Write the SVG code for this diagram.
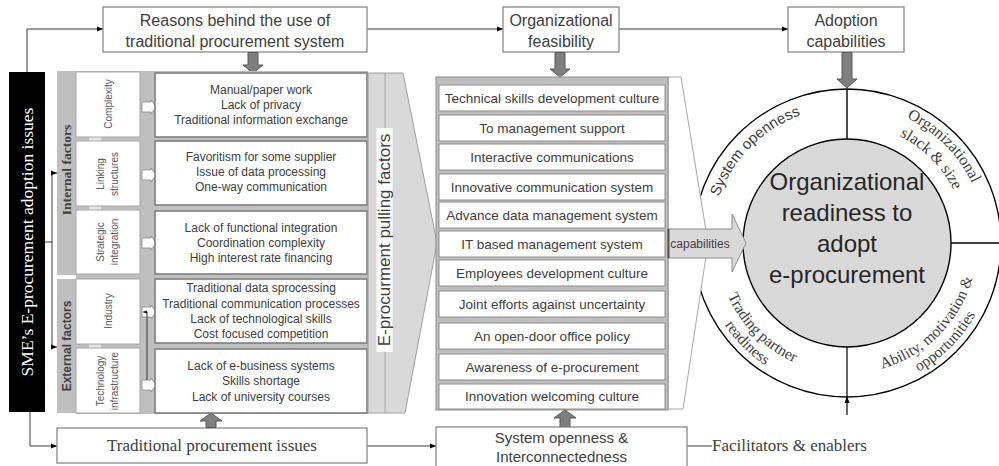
<svg xmlns="http://www.w3.org/2000/svg" width="999" height="466" viewBox="0 0 999 466">
<style>
.sans{font-family:"Liberation Sans",Arial,sans-serif;fill:#404040}
.serif{font-family:"Liberation Serif","Times New Roman",serif;fill:#404040}
.mid{text-anchor:middle}
.box{fill:#fff;stroke:#7f7f7f;stroke-width:1.2}
.dbox{fill:#fff;stroke:#7f7f7f;stroke-width:1.6}
.cat{fill:#fff;stroke:#a6a6a6;stroke-width:1}
.row{fill:#fff;stroke:#8c8c8c;stroke-width:1}
.ln{fill:none;stroke:#3a3a3a;stroke-width:1}
.garr{fill:#7f7f7f;stroke:#595959;stroke-width:1}
.warr{fill:#fff;stroke:#8c8c8c;stroke-width:0.8}
.ring{fill:none;stroke:#000;stroke-width:1.4}
.rt{font-size:16px}
.rb{font-size:15.5px}
</style>
<defs>
<marker id="ah" viewBox="0 0 10 10" refX="10" refY="5" markerWidth="6" markerHeight="6" orient="auto" markerUnits="userSpaceOnUse"><path d="M0,1 L10,5 L0,9 z" fill="#000"/></marker>
<marker id="ahs" viewBox="0 0 10 10" refX="10" refY="5" markerWidth="4" markerHeight="4" orient="auto" markerUnits="userSpaceOnUse"><path d="M0,1 L10,5 L0,9 z" fill="#000"/></marker>
<path id="pSys" d="M750.83 339.17 A136 136 0 0 1 943.17 146.83"/>
<path id="pOrg" d="M748.01 144.01 A140 140 0 0 1 945.99 341.99"/>
<path id="pSlack" d="M762.15 158.15 A120 120 0 0 1 931.85 327.85"/>
<path id="pTrad" d="M754.37 150.37 A131 131 0 0 0 939.63 335.63"/>
<path id="pRead" d="M742.35 138.35 A148 148 0 0 0 951.65 347.65"/>
<path id="pAbil" d="M754.37 335.63 A131 131 0 0 0 939.63 150.37"/>
<path id="pOpp" d="M742.35 347.65 A148 148 0 0 0 951.65 138.35"/>
</defs>
<rect width="999" height="466" fill="#fff"/>

<!-- connectors -->
<g id="connectors">
<path class="ln" d="M27 72 V29 H103" marker-end="url(#ah)"/>
<path class="ln" d="M367 29 H503" marker-end="url(#ah)"/>
<path class="ln" d="M619 29 H788" marker-end="url(#ah)"/>
<path class="ln" d="M30 412 V446 H57" marker-end="url(#ah)"/>
<path class="ln" d="M45 242 H52 V173 H57" marker-end="url(#ah)"/>
<path class="ln" d="M52 242 V347 H57" marker-end="url(#ah)"/>
<path class="ln" d="M367 446 H436" marker-end="url(#ah)"/>
<path class="ln" d="M687 446 H712"/>
</g>

<!-- top boxes -->
<g id="reasons">
<rect class="box" x="103" y="7" width="264" height="45"/>
<text class="sans mid" x="235" y="25.5" font-size="16">Reasons behind the use of</text>
<text class="sans mid" x="235" y="46.5" font-size="16">traditional procurement system</text>
<polygon class="garr" points="248,52.5 258,52.5 258,65 263,65 253,73 243,65 248,65"/>
</g>
<g id="feasibility">
<rect class="box" x="503" y="7" width="116" height="45"/>
<text class="sans mid" x="561" y="25.5" font-size="16">Organizational</text>
<text class="sans mid" x="561" y="46.5" font-size="16">feasibility</text>
<polygon class="garr" points="555,52.5 565,52.5 565,69 570,69 560,77 550,69 555,69"/>
</g>
<g id="adoption">
<rect class="box" x="788" y="7" width="116" height="45"/>
<text class="sans mid" x="846" y="25.5" font-size="16">Adoption</text>
<text class="sans mid" x="846" y="46.5" font-size="16">capabilities</text>
</g>

<!-- black issue box -->
<g id="sme-issues">
<rect x="9" y="72" width="36" height="340" fill="#000"/>
<text class="serif mid" transform="translate(33,242) rotate(-90)" font-size="17.5" style="fill:#fff">SME’s E-procurement adoption issues</text>
</g>

<!-- left panel -->
<g id="factors-panel">
<rect x="76" y="71" width="292" height="343" fill="#bfbfbf"/>
<rect x="57" y="71" width="19" height="204" fill="#bfbfbf"/>
<rect x="57" y="279" width="19" height="134" fill="#bfbfbf"/>
<text class="serif mid" transform="translate(71,170) rotate(-90)" font-size="13.5" font-weight="bold">Internal factors</text>
<text class="sans mid" transform="translate(70.5,346) rotate(-90)" font-size="12" font-weight="bold">External factors</text>
<rect x="89" y="137" width="12" height="4" fill="#e6e6e6"/>
<rect x="89" y="206" width="12" height="4" fill="#e6e6e6"/>
<rect x="89" y="344" width="12" height="4" fill="#e6e6e6"/>
</g>

<g id="complexity">
<rect class="cat" x="76" y="72" width="64" height="65"/>
<text class="sans mid" transform="translate(111.5,104) rotate(-90)" font-size="10" style="fill:#595959">Complexity</text>
<polygon class="warr" points="142,102 151,102 151,100 156,107 151,114 151,112 142,112"/>
<rect class="dbox" x="155" y="73" width="212" height="64"/>
<text class="sans mid" font-size="12"><tspan x="261" y="94">Manual/paper work</tspan><tspan x="261" y="109">Lack of privacy</tspan><tspan x="261" y="124">Traditional information exchange</tspan></text>
</g>
<g id="linking">
<rect class="cat" x="76" y="141" width="64" height="65"/>
<text class="sans mid" transform="translate(104,174) rotate(-90)" font-size="10" style="fill:#595959">Linking</text>
<text class="sans mid" transform="translate(118,174) rotate(-90)" font-size="10" style="fill:#595959">structures</text>
<polygon class="warr" points="142,170 151,170 151,168 156,175 151,182 151,180 142,180"/>
<rect class="dbox" x="155" y="141" width="212" height="64"/>
<text class="sans mid" font-size="12"><tspan x="261" y="161">Favoritism for some supplier</tspan><tspan x="261" y="176">Issue of data processing</tspan><tspan x="261" y="191">One-way communication</tspan></text>
</g>
<g id="strategic">
<rect class="cat" x="76" y="210" width="64" height="64"/>
<text class="sans mid" transform="translate(104,242) rotate(-90)" font-size="10" style="fill:#595959">Strategic</text>
<text class="sans mid" transform="translate(118,242) rotate(-90)" font-size="10" style="fill:#595959">integration</text>
<polygon class="warr" points="142,238 151,238 151,236 156,243 151,250 151,248 142,248"/>
<rect class="dbox" x="155" y="211" width="212" height="63"/>
<text class="sans mid" font-size="12"><tspan x="261" y="232">Lack of functional integration</tspan><tspan x="261" y="247">Coordination complexity</tspan><tspan x="261" y="262">High interest rate financing</tspan></text>
</g>
<g id="industry">
<rect class="cat" x="76" y="279" width="64" height="65"/>
<text class="sans mid" transform="translate(111.5,311) rotate(-90)" font-size="10" style="fill:#595959">Industry</text>
<polygon class="warr" points="142,307 151,307 151,305 156,312 151,319 151,317 142,317"/>
<rect class="dbox" x="155" y="279" width="212" height="64"/>
<text class="sans mid" font-size="12"><tspan x="261" y="292">Traditional data sprocessing</tspan><tspan x="261" y="307.5">Traditional communication processes</tspan><tspan x="261" y="323">Lack of technological skills</tspan><tspan x="261" y="338">Cost focused competition</tspan></text>
</g>
<g id="technology">
<rect class="cat" x="76" y="348" width="64" height="65"/>
<text class="sans mid" transform="translate(104,381) rotate(-90)" font-size="10" style="fill:#595959">Technology</text>
<text class="sans mid" transform="translate(118,381) rotate(-90)" font-size="10" style="fill:#595959">infrastructure</text>
<polygon class="warr" points="142,380 151,380 151,378 156,385 151,392 151,390 142,390"/>
<rect class="dbox" x="155" y="349" width="212" height="64"/>
<text class="sans mid" font-size="12"><tspan x="261" y="370">Lack of e-business systems</tspan><tspan x="261" y="385">Skills shortage</tspan><tspan x="261" y="401">Lack of university courses</tspan></text>
</g>
<path class="ln" d="M147 380 V312 H143" marker-end="url(#ahs)"/>

<!-- pulling factors arrow -->
<g id="pulling-factors">
<polygon points="368,73 403,73 437,243 405,413 368,413" fill="#d9d9d9" stroke="#a0a0a0" stroke-width="1"/>
<line x1="385" y1="73" x2="385" y2="413" stroke="#a6a6a6" stroke-width="1"/>
<rect x="376.5" y="128" width="16" height="224" fill="#fff"/>
<text class="sans mid" transform="translate(390,240) rotate(-90)" font-size="17">E-procurment pulling factors</text>
</g>

<!-- outer ring -->
<g id="ring">
<circle class="ring" cx="847" cy="243" r="154" fill="#fff"/>
<line class="ring" x1="847" y1="89" x2="847" y2="139"/>
<line class="ring" x1="951" y1="243" x2="1001" y2="243"/>
<line x1="847" y1="347" x2="847" y2="415" stroke="#000" stroke-width="1.2"/>
<polygon points="847,396 844.5,403 849.5,403" fill="#000"/>
<text class="sans" font-size="15"><textPath href="#pSys" startOffset="50%" text-anchor="middle">System openness</textPath></text>
<text class="serif rt"><textPath href="#pOrg" startOffset="50%" text-anchor="middle">Organizational</textPath></text>
<text class="serif rt"><textPath href="#pSlack" startOffset="50%" text-anchor="middle">slack &amp; size</textPath></text>
<text class="serif rb"><textPath href="#pTrad" startOffset="50%" text-anchor="middle">Trading partner</textPath></text>
<text class="serif rb"><textPath href="#pRead" startOffset="50%" text-anchor="middle">readiness</textPath></text>
<text class="serif rb"><textPath href="#pAbil" startOffset="50%" text-anchor="middle">Ability, motivation &amp;</textPath></text>
<text class="serif rb"><textPath href="#pOpp" startOffset="50%" text-anchor="middle">opportunities</textPath></text>
</g>
<polygon points="668,77 681,77 708,243 683,409 668,409" fill="#fff" stroke="#a6a6a6" stroke-width="1"/>

<!-- list panel -->
<g id="pulling-list">
<rect x="436" y="77" width="232" height="333" fill="#bfbfbf" stroke="#8c8c8c" stroke-width="1"/>
<rect class="row" x="439" y="85" width="226" height="26"/>
<rect class="row" x="439" y="115" width="226" height="26"/>
<rect class="row" x="439" y="144" width="226" height="26"/>
<rect class="row" x="439" y="174" width="226" height="26"/>
<rect class="row" x="439" y="202" width="226" height="26"/>
<rect class="row" x="439" y="231" width="226" height="26"/>
<rect class="row" x="439" y="260" width="226" height="26"/>
<rect class="row" x="439" y="291" width="226" height="26"/>
<rect class="row" x="439" y="323" width="226" height="26"/>
<rect class="row" x="439" y="354" width="226" height="26"/>
<rect class="row" x="439" y="384" width="226" height="25"/>
<g class="sans mid" font-size="13.5">
<text x="552" y="102.5">Technical skills development culture</text>
<text x="552" y="132.5">To management support</text>
<text x="552" y="161.5">Interactive communications</text>
<text x="552" y="191.5">Innovative communication system</text>
<text x="552" y="219.5">Advance data management system</text>
<text x="552" y="248.5">IT based management system</text>
<text x="552" y="277.5">Employees development culture</text>
<text x="552" y="308.5">Joint efforts against uncertainty</text>
<text x="552" y="340.5">An open-door office policy</text>
<text x="552" y="371.5">Awareness of e-procurement</text>
<text x="552" y="401">Innovation welcoming culture</text>
</g>
<polygon class="garr" points="560,427 570,427 570,418 576,418 565,410 554,418 560,418"/>
</g>

<!-- inner circle -->
<g id="readiness">
<circle cx="847" cy="243" r="104" fill="#d9d9d9" stroke="#000" stroke-width="1.4"/>
<g class="sans mid" font-size="24" style="fill:#262626">
<text x="847" y="190">Organizational</text>
<text x="847" y="221">readiness to</text>
<text x="847" y="252">adopt</text>
<text x="847" y="283">e-procurement</text>
</g>
</g>
<polygon class="garr" points="842,52.5 852,52.5 852,79 857,79 847,88 837,79 842,79"/>

<!-- capabilities arrow -->
<g id="capabilities">
<polygon points="668,229 732,229 732,214 746,243 732,272 732,258 668,258" fill="#d9d9d9" stroke="#8c8c8c" stroke-width="1"/>
<line x1="668.5" y1="229" x2="668.5" y2="258" stroke="#595959" stroke-width="2"/>
<text class="sans mid" x="700" y="247.5" font-size="12">capabilities</text>
</g>

<!-- bottom -->
<g id="traditional-issues">
<rect class="box" x="57" y="428" width="310" height="35"/>
<text class="serif mid" x="212" y="451" font-size="17">Traditional procurement issues</text>
<polygon class="garr" points="206,427.5 216,427.5 216,421 222,421 211,413 200,421 206,421"/>
</g>
<g id="system-openness">
<rect class="box" x="436" y="427" width="251" height="40"/>
<text class="sans mid" x="561.5" y="443" font-size="15">System openness &amp;</text>
<text class="sans mid" x="561.5" y="462" font-size="15">Interconnectedness</text>
</g>
<g id="facilitators">
<text class="serif" x="712" y="451" font-size="17">Facilitators &amp; enablers</text>
</g>
</svg>
